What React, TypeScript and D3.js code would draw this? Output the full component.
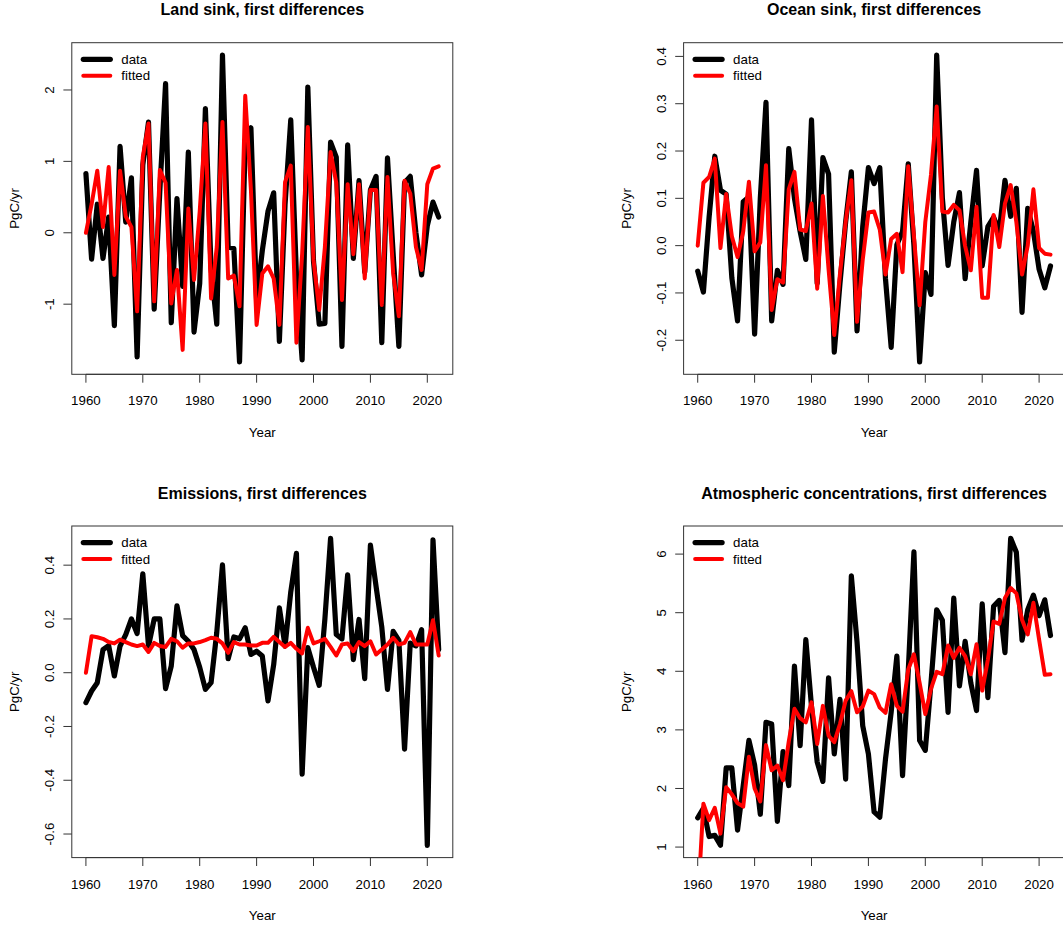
import React from "react";
import * as d3 from "d3";

const YEARS = [
  1960, 1961, 1962, 1963, 1964, 1965, 1966, 1967, 1968, 1969,
  1970, 1971, 1972, 1973, 1974, 1975, 1976, 1977, 1978, 1979,
  1980, 1981, 1982, 1983, 1984, 1985, 1986, 1987, 1988, 1989,
  1990, 1991, 1992, 1993, 1994, 1995, 1996, 1997, 1998, 1999,
  2000, 2001, 2002, 2003, 2004, 2005, 2006, 2007, 2008, 2009,
  2010, 2011, 2012, 2013, 2014, 2015, 2016, 2017, 2018, 2019,
  2020, 2021, 2022,
];

const X_TICKS = [1960, 1970, 1980, 1990, 2000, 2010, 2020];

// Land sink
const LAND_DATA = [
  0.83, -0.37, 0.40, -0.36, 0.22, -1.30, 1.21, 0.15, 0.77, -1.74,
  0.95, 1.55, -1.07, 0.60, 2.09, -1.26, 0.48, -0.75, 1.13, -1.39,
  -0.71, 1.74, -0.50, -1.28, 2.49, -0.20, -0.22, -1.81, 1.30, 1.47,
  -0.95, -0.25, 0.30, 0.56, -1.52, 0.40, 1.58, -0.60, -1.78, 2.04,
  -0.40, -1.28, -1.27, 1.27, 1.06, -1.59, 1.23, -0.36, 0.73, -0.55,
  0.60, 0.79, -1.54, 1.05, -0.30, -1.59, 0.70, 0.79, 0.00, -0.59,
  0.10, 0.43, 0.22,
];
const LAND_FITTED = [
  0.00, 0.40, 0.87, 0.08, 0.92, -0.59, 0.87, 0.23, 0.08, -1.10,
  1.06, 1.53, -0.96, 0.88, 0.70, -0.99, -0.52, -1.64, 0.34, -0.66,
  0.30, 1.53, -0.92, -0.20, 1.55, -0.64, -0.60, -1.03, 1.92, 0.60,
  -1.29, -0.57, -0.47, -0.64, -1.29, 0.71, 0.94, -1.54, -0.30, 1.48,
  -0.38, -1.08, -0.20, 1.13, 0.70, -0.94, 0.68, -0.30, 0.68, -0.64,
  0.60, 0.60, -1.01, 0.78, -0.57, -1.17, 0.73, 0.55, -0.20, -0.52,
  0.68, 0.90, 0.93,
];
const LAND_TICKS = [-1, 0, 1, 2];
const LAND_TICK_LABELS = ["-1", "0", "1", "2"];

// Ocean sink
const OCEAN_DATA = [
  -0.054, -0.098, 0.06, 0.189, 0.117, 0.109, -0.068, -0.159, 0.093, 0.103,
  -0.187, 0.10, 0.303, -0.159, -0.052, -0.082, 0.205, 0.10, 0.03, -0.029,
  0.266, -0.08, 0.186, 0.151, -0.225, -0.08, 0.05, 0.156, -0.18, 0.04,
  0.165, 0.131, 0.165, -0.07, -0.215, 0.002, 0.03, 0.173, 0.0, -0.246,
  -0.057, -0.103, 0.403, 0.10, -0.042, 0.05, 0.112, -0.07, 0.05, 0.159,
  -0.043, 0.04, 0.06, 0.03, 0.138, 0.062, 0.121, -0.141, 0.079, 0.03,
  -0.05, -0.089, -0.043,
];
const OCEAN_FITTED = [
  0.0, 0.133, 0.145, 0.184, -0.005, 0.109, 0.02, -0.024, 0.03, 0.135,
  -0.012, 0.007, 0.17, -0.136, -0.071, -0.078, 0.119, 0.156, 0.034, 0.031,
  0.089, -0.091, 0.105, -0.05, -0.189, -0.06, 0.05, 0.138, -0.161, -0.03,
  0.07, 0.072, 0.034, -0.061, 0.014, 0.025, -0.056, 0.168, 0.02, -0.126,
  0.05, 0.15, 0.294, 0.072, 0.07, 0.086, 0.075, -0.001, -0.052, 0.082,
  -0.11, -0.11, 0.065, -0.003, 0.089, 0.128, 0.05, -0.061, 0.0, 0.119,
  -0.005, -0.017, -0.019,
];
const OCEAN_TICKS = [-0.2, -0.1, 0.0, 0.1, 0.2, 0.3, 0.4];
const OCEAN_TICK_LABELS = ["-0.2", "-0.1", "0.0", "0.1", "0.2", "0.3", "0.4"];

// Emissions
const EMIS_DATA = [
  -0.111, -0.068, -0.037, 0.086, 0.101, -0.012, 0.099, 0.142, 0.2, 0.146,
  0.368, 0.099, 0.2, 0.2, -0.059, 0.025, 0.249, 0.138, 0.117, 0.086,
  0.02, -0.062, -0.037, 0.15, 0.401, 0.052, 0.133, 0.126, 0.167, 0.068,
  0.08, 0.062, -0.105, 0.03, 0.241, 0.099, 0.3, 0.444, -0.377, 0.093,
  0.02, -0.047, 0.2, 0.5, 0.142, 0.126, 0.364, 0.049, 0.198, -0.022,
  0.475, 0.32, 0.17, -0.062, 0.154, 0.12, -0.284, 0.11, 0.1, 0.16,
  -0.642, 0.494, 0.086,
];
const EMIS_FITTED = [
  0.0, 0.136, 0.132, 0.126, 0.114, 0.109, 0.123, 0.114, 0.105, 0.099,
  0.105, 0.077, 0.111, 0.099, 0.096, 0.126, 0.117, 0.093, 0.109, 0.109,
  0.114, 0.121, 0.13, 0.126, 0.109, 0.074, 0.114, 0.105, 0.105, 0.101,
  0.101, 0.111, 0.111, 0.133, 0.114, 0.096, 0.111, 0.089, 0.072, 0.167,
  0.109, 0.117, 0.126, 0.096, 0.064, 0.105, 0.109, 0.08, 0.114, 0.099,
  0.117, 0.068, 0.086, 0.105, 0.13, 0.105, 0.111, 0.151, 0.105, 0.105,
  0.105, 0.195, 0.064,
];
const EMIS_TICKS = [-0.6, -0.4, -0.2, 0.0, 0.2, 0.4];
const EMIS_TICK_LABELS = ["-0.6", "-0.4", "-0.2", "0.0", "0.2", "0.4"];

// Atmospheric concentrations
const ATMOS_DATA = [
  1.50, 1.66, 1.18, 1.20, 1.03, 2.35, 2.35, 1.29, 2.05, 2.82,
  2.40, 1.56, 3.13, 3.10, 1.44, 2.63, 2.05, 4.09, 2.73, 4.54,
  3.40, 2.45, 2.12, 3.89, 2.59, 3.52, 2.16, 5.63, 4.50, 3.07,
  2.59, 1.60, 1.51, 2.50, 3.30, 4.26, 2.22, 4.00, 6.04, 2.82,
  2.65, 3.80, 5.05, 4.87, 3.30, 5.25, 3.75, 4.51, 3.80, 3.33,
  5.15, 3.55, 5.11, 5.21, 4.32, 6.27, 6.03, 4.53, 5.05, 5.30,
  4.95, 5.22, 4.61,
];
const ATMOS_FITTED = [
  0.00, 1.74, 1.46, 1.67, 1.23, 2.02, 1.90, 1.75, 1.69, 2.54,
  2.00, 1.78, 2.74, 2.31, 2.39, 2.14, 2.80, 3.36, 3.20, 3.13,
  3.47, 2.76, 3.41, 2.90, 2.79, 3.10, 3.50, 3.66, 3.30, 3.40,
  3.67, 3.61, 3.38, 3.29, 3.78, 3.41, 3.31, 4.03, 4.29, 3.80,
  3.27, 3.70, 3.99, 3.95, 4.44, 4.23, 4.40, 4.26, 3.95, 4.46,
  3.67, 4.20, 4.85, 4.81, 5.25, 5.42, 5.33, 4.88, 4.63, 5.17,
  4.54, 3.94, 3.95,
];
const ATMOS_TICKS = [1, 2, 3, 4, 5, 6];
const ATMOS_TICK_LABELS = ["1", "2", "3", "4", "5", "6"];

const LEGEND_LABELS = ["data", "fitted"];
const SERIES_COLORS = ["#000000", "#ff0000"];

const FONT = "'Liberation Sans', Arial, Helvetica, sans-serif";

function rExtend([a, b]: [number, number]): [number, number] {
  const d = (b - a) * 0.04;
  return [a - d, b + d];
}

type PanelProps = {
  id: string;
  left: number;
  top: number;
  width: number;
  height: number;
  title: string;
  data: number[];
  fitted: number[];
  yTicks: number[];
  yTickLabels: string[];
};

function Panel(p: PanelProps) {
  const { id, left, top, width, height, title, data, fitted, yTicks, yTickLabels } = p;
  const bottom = top + height;
  const right = left + width;
  const cx = left + width / 2;
  const cy = top + height / 2;
  const x = d3
    .scaleLinear()
    .domain(rExtend(d3.extent(YEARS) as [number, number]))
    .range([left, right]);
  const y = d3
    .scaleLinear()
    .domain(rExtend(d3.extent(data) as [number, number]))
    .range([bottom, top]);
  const line = d3
    .line<number>()
    .x((_, i) => x(YEARS[i]))
    .y((d) => y(d));
  const tickLen = 8.4;
  const fs = 13.3;
  return (
    <g>
      <defs>
        <clipPath id={`clip-${id}`}>
          <rect x={left} y={top} width={width} height={height} />
        </clipPath>
      </defs>
      <text
        x={cx}
        y={top - 27.5}
        textAnchor="middle"
        fontFamily={FONT}
        fontWeight="bold"
        fontSize={16}
        fill="#000"
      >
        {title}
      </text>
      {/* x axis */}
      <line
        x1={x(X_TICKS[0])}
        x2={x(X_TICKS[X_TICKS.length - 1])}
        y1={bottom}
        y2={bottom}
        stroke="#333"
        strokeWidth={1}
      />
      {X_TICKS.map((t) => (
        <g key={`xt-${t}`}>
          <line x1={x(t)} x2={x(t)} y1={bottom} y2={bottom + tickLen} stroke="#333" strokeWidth={1} />
          <text x={x(t)} y={bottom + 31} textAnchor="middle" fontFamily={FONT} fontSize={fs} fill="#000">
            {t}
          </text>
        </g>
      ))}
      <text x={cx} y={bottom + 62.5} textAnchor="middle" fontFamily={FONT} fontSize={fs} fill="#000">
        Year
      </text>
      {/* y axis */}
      {yTicks.map((t, i) => (
        <g key={`yt-${t}`}>
          <line x1={left - tickLen} x2={left} y1={y(t)} y2={y(t)} stroke="#333" strokeWidth={1} />
          <text
            transform={`translate(${left - 18},${y(t)}) rotate(-90)`}
            textAnchor="middle"
            fontFamily={FONT}
            fontSize={fs}
            fill="#000"
          >
            {yTickLabels[i]}
          </text>
        </g>
      ))}
      <text
        transform={`translate(${left - 53},${cy}) rotate(-90)`}
        textAnchor="middle"
        fontFamily={FONT}
        fontSize={fs}
        fill="#000"
      >
        PgC/yr
      </text>
      {/* box */}
      <rect x={left} y={top} width={width} height={height} fill="none" stroke="#333" strokeWidth={1} />
      {/* series */}
      <g clipPath={`url(#clip-${id})`}>
        <path
          d={line(data) || ""}
          fill="none"
          stroke={SERIES_COLORS[0]}
          strokeWidth={5.2}
          strokeLinejoin="round"
          strokeLinecap="round"
        />
        <path
          d={line(fitted) || ""}
          fill="none"
          stroke={SERIES_COLORS[1]}
          strokeWidth={4}
          strokeLinejoin="round"
          strokeLinecap="round"
        />
      </g>
      {/* legend */}
      {LEGEND_LABELS.map((lab, i) => {
        const ly = top + 16.6 + i * 16.4;
        return (
          <g key={`lg-${lab}`}>
            <line
              x1={left + 11.5}
              x2={left + 38.5}
              y1={ly}
              y2={ly}
              stroke={SERIES_COLORS[i]}
              strokeWidth={i === 0 ? 5.2 : 4}
              strokeLinecap="round"
            />
            <text x={left + 49.5} y={ly + 4.6} fontFamily={FONT} fontSize={fs} fill="#000">
              {lab}
            </text>
          </g>
        );
      })}
    </g>
  );
}

export default function App() {
  const W = 1063;
  const H = 929;
  const pw = 381;
  const ph = 331.6;
  const L1 = 71.8;
  const L2 = 683.6;
  const T1 = 42.7;
  const T2 = 526;
  return (
    <svg
      width={W}
      height={H}
      viewBox={`0 0 ${W} ${H}`}
      style={{ position: "absolute", left: 0, top: 0, display: "block", background: "#fff" }}
    >
      <rect x={0} y={0} width={W} height={H} fill="#fff" />
      <Panel
        id="land"
        left={L1}
        top={T1}
        width={pw}
        height={ph}
        title="Land sink, first differences"
        data={LAND_DATA}
        fitted={LAND_FITTED}
        yTicks={LAND_TICKS}
        yTickLabels={LAND_TICK_LABELS}
      />
      <Panel
        id="ocean"
        left={L2}
        top={T1}
        width={pw}
        height={ph}
        title="Ocean sink, first differences"
        data={OCEAN_DATA}
        fitted={OCEAN_FITTED}
        yTicks={OCEAN_TICKS}
        yTickLabels={OCEAN_TICK_LABELS}
      />
      <Panel
        id="emis"
        left={L1}
        top={T2}
        width={pw}
        height={ph}
        title="Emissions, first differences"
        data={EMIS_DATA}
        fitted={EMIS_FITTED}
        yTicks={EMIS_TICKS}
        yTickLabels={EMIS_TICK_LABELS}
      />
      <Panel
        id="atmos"
        left={L2}
        top={T2}
        width={pw}
        height={ph}
        title="Atmospheric concentrations, first differences"
        data={ATMOS_DATA}
        fitted={ATMOS_FITTED}
        yTicks={ATMOS_TICKS}
        yTickLabels={ATMOS_TICK_LABELS}
      />
    </svg>
  );
}
